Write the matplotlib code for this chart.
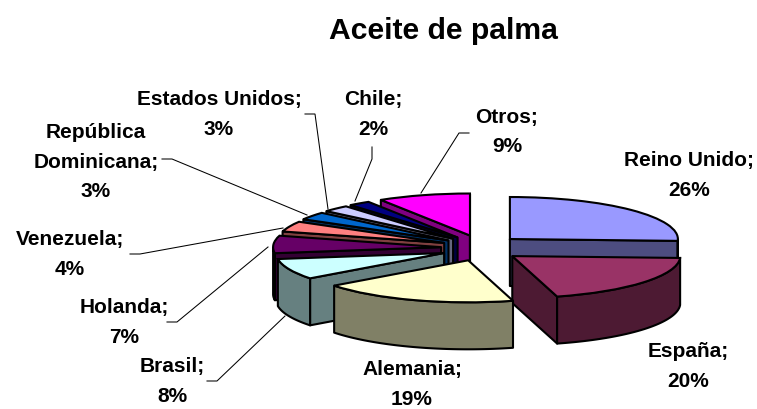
import numpy as np
import matplotlib
matplotlib.use("Agg")
import matplotlib.pyplot as plt
from matplotlib.patches import Polygon

plt.rcParams['font.family'] = ['Liberation Sans', 'DejaVu Sans']

categories = ["Reino Unido", "España", "Alemania", "Brasil", "Holanda", "Venezuela",
              "República Dominicana", "Estados Unidos", "Chile", "Otros"]
values = [25.7, 20.0, 19.0, 8.0, 6.7, 4.0, 3.0, 2.6, 2.1, 8.9]
percent_labels = ["26%", "20%", "19%", "8%", "7%", "4%", "3%", "3%", "2%", "9%"]
top_colors = ["#9999FF", "#993366", "#FFFFCC", "#CCFFFF", "#660066", "#FF8080",
              "#0066CC", "#CCCCFF", "#000080", "#FF00FF"]
wall_colors = ["#4D4D80", "#4D1A33", "#808066", "#668080", "#330033", "#804040",
               "#003366", "#666680", "#000040", "#800080"]
# back-to-front painting order (indices into categories)
paint_order = [9, 8, 7, 6, 5, 4, 3, 0, 1, 2]

W, H = 757, 410
CX, CY, RX, RY = 481.0, 249.0, 168.0, 42.0
DEPTH = 47.0 / RY
EXPLODE = 0.238
EXPLODE_Y_GAIN = 1.3
LW = 1.5

fig = plt.figure(figsize=(W / 100, H / 100), dpi=100, facecolor="white")
ax = fig.add_axes([0, 0, 1, 1])
wedges, _ = ax.pie(values, startangle=90, counterclock=False, colors=top_colors,
                   explode=[EXPLODE] * len(values), radius=1,
                   wedgeprops=dict(edgecolor="black", linewidth=LW))
ax.set_aspect("auto")
ax.set_xlim(-CX / RX, (W - CX) / RX)
ax.set_ylim(-(H - CY) / RY, CY / RY)
ax.axis("off")


def add_face(pts, color, z):
    ax.add_patch(Polygon(pts, closed=True, facecolor=color, edgecolor="black",
                         linewidth=LW, joinstyle="round", zorder=z))


for rank, i in enumerate(paint_order):
    w = wedges[i]
    hi, lo = w.theta1, w.theta2
    if hi < lo:
        hi, lo = lo, hi
    mid = np.deg2rad((hi + lo) / 2)
    c = np.array([EXPLODE * np.cos(mid), EXPLODE * EXPLODE_Y_GAIN * np.sin(mid)])
    w.set_center(tuple(c))
    z = 10 + 5 * rank
    w.set_zorder(z + 3)
    drop = np.array([0, -DEPTH])
    # straight walls turned towards the viewer
    for ang, visible in ((hi, np.cos(np.deg2rad(hi)) < -1e-9), (lo, np.cos(np.deg2rad(lo)) > 1e-9)):
        if visible:
            t = np.deg2rad(ang)
            e = c + np.array([np.cos(t), np.sin(t)])
            add_face([c, e, e + drop, c + drop], wall_colors[i], z)
    # outer curved wall: only the part of the rim on the front half
    ths = np.linspace(lo, hi, 120)
    ths = ths[np.sin(np.deg2rad(ths)) <= 0]
    if len(ths) > 1:
        t = np.deg2rad(ths)
        rim = np.column_stack([c[0] + np.cos(t), c[1] + np.sin(t)])
        add_face(np.vstack([rim, (rim + drop)[::-1]]), wall_colors[i], z + 1)

# overlay in pixel coordinates for text and leader lines
ov = fig.add_axes([0, 0, 1, 1], facecolor="none")
ov.set_xlim(0, W)
ov.set_ylim(H, 0)
ov.axis("off")

ov.text(443, 31, "Aceite de palma", ha="center", va="center", fontsize=21.7, fontweight="bold")

label_lines = {
    0: (["Reino Unido;"], 689, 161),
    1: (["España;"], 688, 352),
    2: (["Alemania;"], 412, 370),
    3: (["Brasil;"], 172, 367),
    4: (["Holanda;"], 124, 308),
    5: (["Venezuela;"], 70, 240),
    6: (["República", "Dominicana;"], 96, 133),
    7: (["Estados Unidos;"], 219, 100),
    8: (["Chile;"], 373, 100),
    9: (["Otros;"], 507, 117),
}
LINE_STEP = 29.5
for i, (lines, x, y) in label_lines.items():
    for k, s in enumerate(lines + [percent_labels[i]]):
        ov.text(x, y + k * LINE_STEP, s, ha="center", va="center",
                fontsize=15, fontweight="bold", color="black")

leaders = [
    [(207, 382), (217, 382), (285, 317)],
    [(167, 323), (177, 323), (268, 248)],
    [(130, 255), (140, 255), (283, 229)],
    [(162, 160), (172, 160), (307, 216)],
    [(305, 115), (315, 115), (328, 210)],
    [(372, 148), (372, 160), (355, 202)],
    [(469, 134), (459, 134), (421, 194)],
]
for pts in leaders:
    xs, ys = zip(*pts)
    ov.plot(xs, ys, color="black", lw=0.75, solid_joinstyle="miter")

fig.savefig("out.png", dpi=100, facecolor="white")
